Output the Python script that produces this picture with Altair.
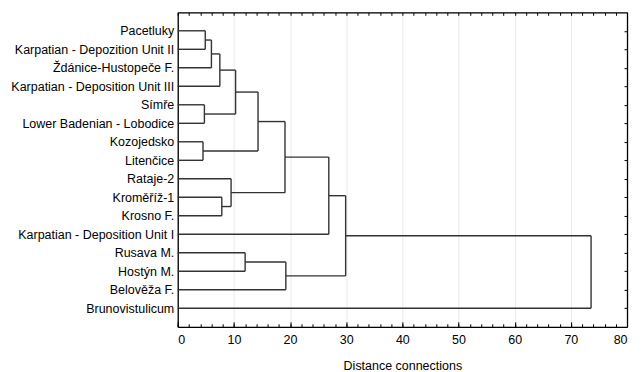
import json
import altair as alt
import pandas as pd

leaves = [
    "Pacetluky",
    "Karpatian - Depozition Unit II",
    "Ždánice-Hustopeče F.",
    "Karpatian - Deposition Unit III",
    "Símře",
    "Lower Badenian - Lobodice",
    "Kozojedsko",
    "Litenčice",
    "Rataje-2",
    "Kroměříž-1",
    "Krosno F.",
    "Karpatian - Deposition Unit I",
    "Rusava M.",
    "Hostýn M.",
    "Belověža F.",
    "Brunovistulicum",
]
# linkage: cluster ids 0..15 are leaves, merge k creates cluster 16+k
merge_a = [0, 16, 17, 4, 18, 6, 20, 9, 8, 22, 25, 12, 27, 26, 29]
merge_b = [1, 2, 3, 5, 19, 7, 21, 10, 23, 24, 11, 13, 14, 28, 15]
merge_h = [4.9, 6.0, 7.5, 4.75, 10.3, 4.5, 14.3, 7.85, 9.5, 19.1, 26.9, 12.0, 19.25, 29.9, 73.6]

x_major = [0, 10, 20, 30, 40, 50, 60, 70, 80]
x_minor = list(range(0, 81, 2))

ypos = {i: float(i) for i in range(len(leaves))}
hpos = {i: 0.0 for i in range(len(leaves))}
rows = []
for k, (a, b, h) in enumerate(zip(merge_a, merge_b, merge_h)):
    nid = len(leaves) + k
    ya, yb = ypos[a], ypos[b]
    rows.append({"x": hpos[a], "x2": h, "y": ya, "y2": ya})
    rows.append({"x": hpos[b], "x2": h, "y": yb, "y2": yb})
    rows.append({"x": h, "x2": h, "y": ya, "y2": yb})
    ypos[nid] = (ya + yb) / 2
    hpos[nid] = h
segs = pd.DataFrame(rows)

xscale = alt.Scale(domain=[0, 80], nice=False, zero=False)
yscale = alt.Scale(domain=[-1, 16], reverse=True, nice=False, zero=False)
label_expr = json.dumps(leaves, ensure_ascii=False) + "[datum.value]"
FONT = "Liberation Sans"
FS = 12.5
DOM = dict(domain=True, domainColor="#000", domainWidth=1.3)

main = alt.Chart(segs).mark_rule(color="#333333", strokeWidth=1.4).encode(
    x=alt.X("x:Q", scale=xscale, axis=alt.Axis(
        values=x_major, title="Distance connections", grid=True, gridColor="#e9e9e9",
        ticks=False, labelPadding=7, titlePadding=13,
        labelFont=FONT, titleFont=FONT, labelFontSize=FS, titleFontSize=FS,
        titleFontWeight="normal", labelColor="#000", titleColor="#000", **DOM)),
    x2="x2",
    y=alt.Y("y:Q", scale=yscale, axis=alt.Axis(
        values=list(range(len(leaves))), labelExpr=label_expr, title=None,
        grid=False, ticks=False, labelPadding=4,
        labelFont=FONT, labelFontSize=FS, labelColor="#000", **DOM)),
    y2="y2",
)

inner_b = alt.Chart(segs).mark_point(opacity=0).encode(
    x=alt.X("x:Q", scale=xscale, axis=alt.Axis(
        orient="top", offset=-315, values=x_minor, labels=False, title=None,
        grid=False, domain=False, tickSize=3, tickColor="#000")),
    y=alt.Y("y:Q", scale=yscale, axis=alt.Axis(
        orient="left", offset=-450, values=list(range(len(leaves))), labels=False,
        title=None, grid=False, tickSize=3, tickColor="#000", **DOM)),
)

inner_t = alt.Chart(segs).mark_point(opacity=0).encode(
    x=alt.X("x:Q", scale=xscale, axis=alt.Axis(
        orient="bottom", offset=-315, values=x_minor, labels=False, title=None,
        grid=False, tickSize=3, tickColor="#000", **DOM)),
    y=alt.Y("y:Q", scale=yscale, axis=None),
)

inner_b2 = alt.Chart(segs).mark_point(opacity=0).encode(
    x=alt.X("x:Q", scale=xscale, axis=alt.Axis(
        orient="top", offset=-315, values=x_major, labels=False, title=None,
        grid=False, domain=False, tickSize=5, tickColor="#000")),
    y=alt.Y("y:Q", scale=yscale, axis=None),
)

chart = alt.layer(main, inner_b, inner_t, inner_b2).resolve_axis(
    x="independent", y="independent"
).properties(
    width=450, height=315,
    autosize=alt.AutoSizeParams(type="none"),
    padding={"left": 170, "top": 4, "right": 8, "bottom": 50},
).configure_view(stroke=None).configure(background="white")

chart.save("out.html", embed_options={"renderer": "svg", "actions": False})
